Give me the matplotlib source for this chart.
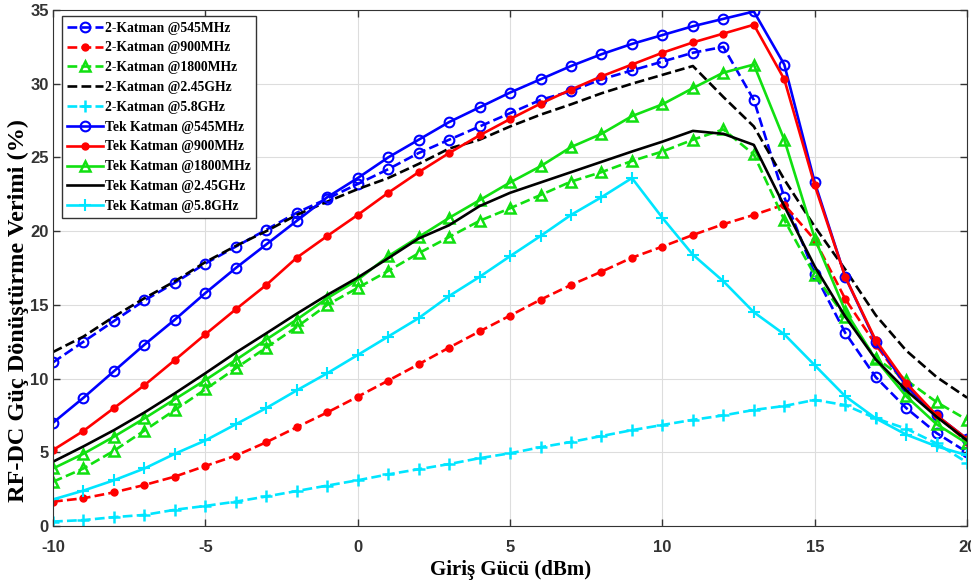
import numpy as np
import matplotlib
matplotlib.use("Agg")
import matplotlib.pyplot as plt

plt.rcParams["axes.unicode_minus"] = False

# giris gucu (dBm)
pin = np.arange(-10, 21)

# 2-Katman
k2_545 = [11.1, 12.5, 13.9, 15.3, 16.5, 17.8, 18.95, 20.1, 21.25, 22.2, 23.2, 24.2, 25.3, 26.2, 27.1, 28.0,
          28.9, 29.5, 30.3, 30.9, 31.5, 32.1, 32.5, 28.9, 22.3, 17.1, 13.1, 10.1, 8.0, 6.3, 5.0]
k2_900 = [1.65, 1.88, 2.28, 2.78, 3.35, 4.07, 4.77, 5.68, 6.7, 7.7, 8.77, 9.86, 10.97, 12.1, 13.2, 14.27,
          15.35, 16.35, 17.25, 18.2, 18.95, 19.74, 20.47, 21.1, 21.8, 19.4, 15.4, 12.3, 9.5, 7.5, 5.7]
k2_1800 = [3.0, 3.9, 5.1, 6.47, 7.87, 9.27, 10.7, 12.1, 13.5, 15.0, 16.15, 17.3, 18.5, 19.6, 20.7, 21.55,
           22.45, 23.36, 24.0, 24.76, 25.4, 26.2, 26.9, 25.2, 20.76, 17.0, 14.2, 11.4, 9.9, 8.4, 7.2]
k2_245 = [11.8, 12.85, 14.2, 15.45, 16.6, 17.9, 19.0, 20.0, 21.1, 22.0, 22.85, 23.6, 24.56, 25.6, 26.2, 27.1,
          27.9, 28.6, 29.35, 30.0, 30.6, 31.2, 29.1, 27.1, 23.5, 20.3, 17.4, 14.3, 11.9, 10.1, 8.7]
k2_58 = [0.3, 0.4, 0.6, 0.75, 1.1, 1.36, 1.65, 2.0, 2.37, 2.74, 3.1, 3.5, 3.85, 4.2, 4.6, 4.93,
         5.34, 5.7, 6.1, 6.5, 6.85, 7.2, 7.5, 7.87, 8.14, 8.55, 8.2, 7.3, 6.6, 5.6, 4.3]

# Tek Katman
tek_545 = [7.0, 8.7, 10.5, 12.3, 14.0, 15.8, 17.5, 19.1, 20.7, 22.3, 23.6, 25.0, 26.2, 27.4, 28.4, 29.4,
           30.3, 31.2, 32.0, 32.7, 33.3, 33.9, 34.4, 34.9, 31.3, 23.3, 16.9, 12.5, 9.5, 7.5, 5.9]
tek_900 = [5.15, 6.45, 8.0, 9.55, 11.26, 13.0, 14.7, 16.35, 18.2, 19.67, 21.1, 22.6, 24.0, 25.3, 26.5, 27.6,
           28.65, 29.6, 30.5, 31.3, 32.1, 32.8, 33.4, 34.0, 30.3, 23.1, 16.9, 12.6, 9.7, 7.5, 5.9]
tek_1800 = [3.9, 4.9, 6.06, 7.3, 8.6, 9.9, 11.26, 12.65, 14.0, 15.45, 16.7, 18.3, 19.6, 20.9, 22.1, 23.3,
            24.4, 25.7, 26.6, 27.8, 28.6, 29.7, 30.75, 31.3, 26.2, 19.5, 14.6, 11.3, 8.8, 6.9, 5.6]
tek_245 = [4.36, 5.4, 6.5, 7.7, 9.0, 10.36, 11.76, 13.07, 14.4, 15.67, 16.85, 18.16, 19.5, 20.4, 21.7, 22.6,
           23.3, 24.0, 24.7, 25.4, 26.07, 26.8, 26.6, 25.85, 21.7, 17.6, 14.2, 11.3, 9.2, 7.4, 5.8]
tek_58 = [1.8, 2.4, 3.1, 3.9, 4.9, 5.8, 6.9, 8.0, 9.2, 10.36, 11.6, 12.85, 14.1, 15.6, 16.9, 18.3,
          19.67, 21.1, 22.3, 23.6, 20.9, 18.4, 16.6, 14.5, 13.0, 10.9, 8.8, 7.3, 6.2, 5.4, 4.8]

labels = ["2-Katman @545MHz", "2-Katman @900MHz", "2-Katman @1800MHz", "2-Katman @2.45GHz", "2-Katman @5.8GHz",
          "Tek Katman @545MHz", "Tek Katman @900MHz", "Tek Katman @1800MHz", "Tek Katman @2.45GHz",
          "Tek Katman @5.8GHz"]

blue, red, green, cyan = "#0000ff", "#ff0000", "#11e011", "#00e5ff"

fig = plt.figure(figsize=(9.71, 5.85), dpi=100)
ax = fig.add_axes([0.0546, 0.1009, 0.9414, 0.8820])

lw = 1.9
ax.plot(pin, k2_545, "--o", color=blue, lw=lw, ms=7, mfc="none", mew=1.5, label=labels[0])
ax.plot(pin, k2_900, "--o", color=red, lw=lw, ms=5, label=labels[1])
ax.plot(pin, k2_1800, "--^", color=green, lw=lw, ms=7, mfc="none", mew=1.8, label=labels[2])
ax.plot(pin, k2_245, "--", color="black", lw=lw, label=labels[3])
ax.plot(pin, k2_58, "--+", color=cyan, lw=lw, ms=8, mew=1.8, label=labels[4])
ax.plot(pin, tek_545, "-o", color=blue, lw=lw, ms=7, mfc="none", mew=1.5, label=labels[5])
ax.plot(pin, tek_900, "-o", color=red, lw=lw, ms=5, label=labels[6])
ax.plot(pin, tek_1800, "-^", color=green, lw=lw, ms=7, mfc="none", mew=1.8, label=labels[7])
ax.plot(pin, tek_245, "-", color="black", lw=lw, label=labels[8])
ax.plot(pin, tek_58, "-+", color=cyan, lw=lw, ms=8, mew=1.5, label=labels[9])

ax.set_xlim(-10, 20)
ax.set_ylim(0, 35)
ax.set_xticks(np.arange(-10, 21, 5))
ax.set_yticks(np.arange(0, 36, 5))
ax.grid(True, color="#dddddd", lw=0.8)
ax.set_axisbelow(True)
ax.tick_params(direction="in", top=True, right=True, length=5, width=1, color="#333333")
ax.tick_params(axis="x", pad=10)
ax.tick_params(axis="y", pad=3)
for lab in ax.get_xticklabels() + ax.get_yticklabels():
    lab.set_fontfamily("Liberation Sans")
    lab.set_fontweight("bold")
    lab.set_fontsize(12)
    lab.set_color("#333333")
for sp in ax.spines.values():
    sp.set_color("#333333")

ax.set_xlabel("Giriş Gücü (dBm)", fontfamily="Liberation Serif", fontweight="bold", fontsize=15)
ax.set_ylabel("RF-DC Güç Dönüştürme Verimi (%)", fontfamily="Liberation Serif", fontweight="bold",
              fontsize=17.5)
ax.xaxis.set_label_coords(0.5, -0.066)
ax.yaxis.set_label_coords(-0.026, 0.417)

leg = ax.legend(loc="upper left", bbox_to_anchor=(0.0098, 0.988), borderaxespad=0, fancybox=False,
                framealpha=1, edgecolor="#333333",
                prop={"family": "Liberation Serif", "weight": "bold", "size": 9.8},
                handlelength=2.6, labelspacing=0.5, borderpad=0.4, handletextpad=0.15)
leg.get_frame().set_linewidth(1.0)

fig.savefig("out.png", dpi=100)
